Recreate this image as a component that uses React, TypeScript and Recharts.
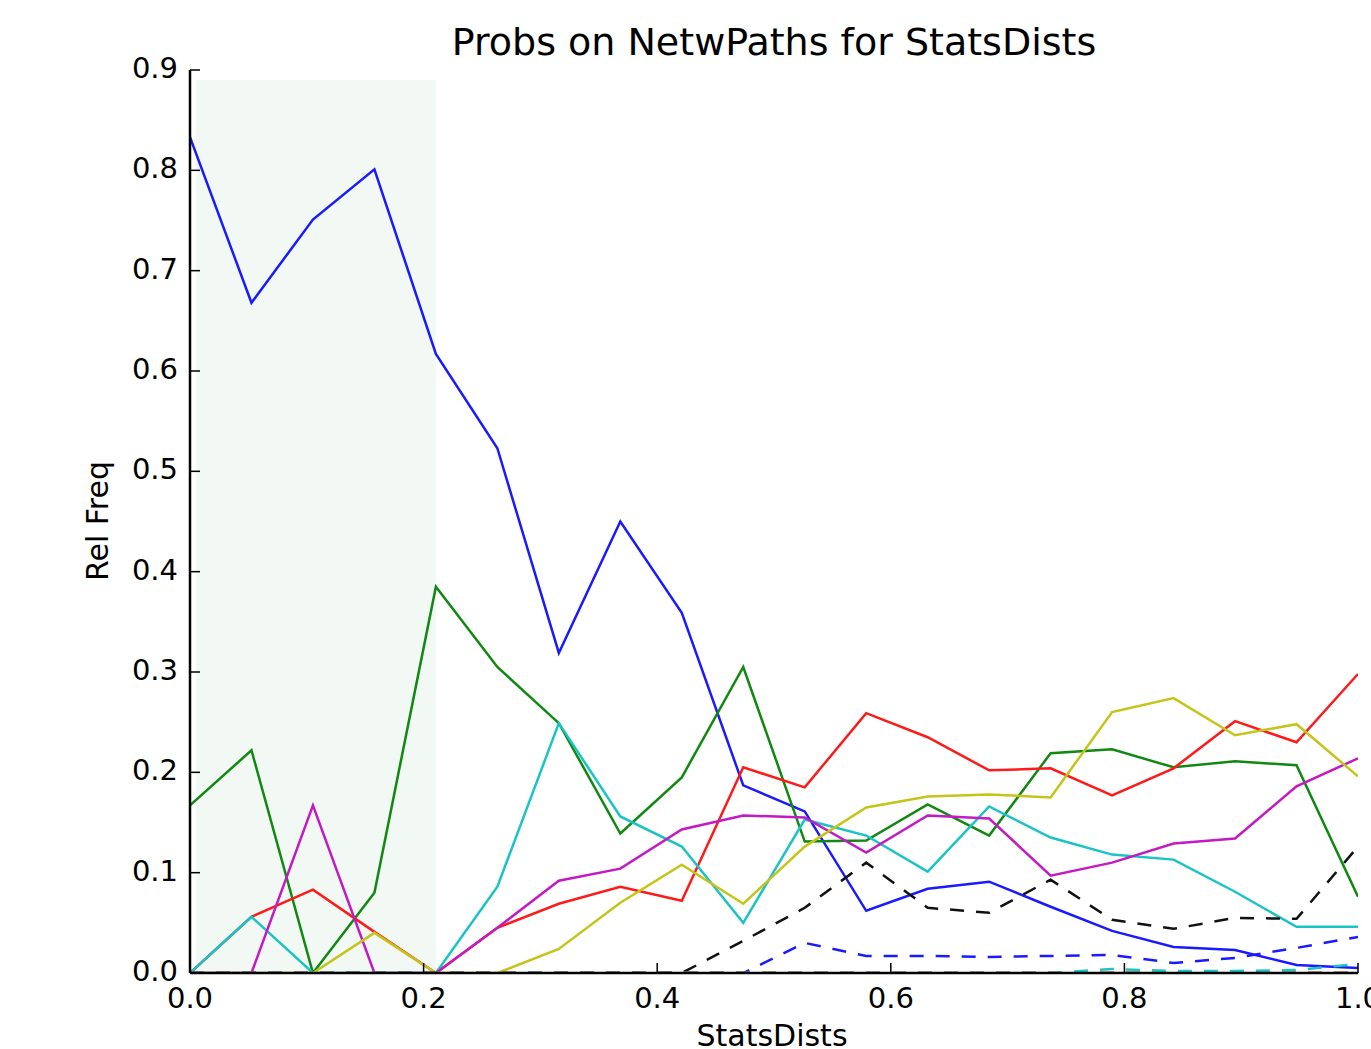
import React from 'react'
import { LineChart, Line, XAxis, YAxis, ReferenceArea } from 'recharts'

// 20 bins between 0 and 1
const steps = Array.from({ length: 20 }, (_, i) => i / 19)

const blueSolid = [0.833, 0.668, 0.751, 0.801, 0.617, 0.523, 0.319, 0.45, 0.359, 0.187, 0.161, 0.062, 0.084, 0.091, 0.066, 0.042, 0.026, 0.023, 0.008, 0.005]
const greenSolid = [0.167, 0.222, 0, 0.08, 0.385, 0.305, 0.249, 0.139, 0.195, 0.305, 0.131, 0.132, 0.168, 0.137, 0.219, 0.223, 0.205, 0.211, 0.207, 0.076]
const redSolid = [0, 0.056, 0.083, 0.041, 0, 0.045, 0.069, 0.086, 0.072, 0.205, 0.185, 0.259, 0.235, 0.202, 0.204, 0.177, 0.204, 0.251, 0.23, 0.298]
const cyanSolid = [0, 0.056, 0, 0, 0, 0.086, 0.249, 0.156, 0.126, 0.05, 0.153, 0.137, 0.101, 0.166, 0.135, 0.118, 0.113, 0.081, 0.046, 0.046]
const magentaSolid = [0, 0, 0.167, 0, 0, 0.045, 0.092, 0.104, 0.143, 0.157, 0.155, 0.12, 0.157, 0.154, 0.097, 0.11, 0.129, 0.134, 0.186, 0.214]
const yellowSolid = [0, 0, 0, 0.04, 0, 0, 0.024, 0.07, 0.108, 0.069, 0.126, 0.165, 0.176, 0.178, 0.175, 0.26, 0.274, 0.237, 0.248, 0.196]
const blackDashed = [0, 0, 0, 0, 0, 0, 0, 0, 0, 0.032, 0.065, 0.11, 0.065, 0.06, 0.093, 0.053, 0.044, 0.055, 0.054, 0.126]
const blueDashed = [0, 0, 0, 0, 0, 0, 0, 0, 0, 0, 0.03, 0.017, 0.017, 0.016, 0.017, 0.018, 0.01, 0.015, 0.025, 0.036]
const zeroDashed = [0, 0, 0, 0, 0, 0, 0, 0, 0, 0, 0, 0, 0, 0, 0, 0, 0, 0, 0, 0]
const cyanDashed = [0, 0, 0, 0, 0, 0, 0, 0, 0, 0, 0, 0, 0, 0, 0, 0.004, 0.002, 0.002, 0.003, 0.009]

const xTicks = [0, 0.2, 0.4, 0.6, 0.8, 1.0]
const yTicks = [0, 0.1, 0.2, 0.3, 0.4, 0.5, 0.6, 0.7, 0.8, 0.9]

const rows = steps.map((x, i) => ({
  x,
  b: blueSolid[i],
  g: greenSolid[i],
  r: redSolid[i],
  c: cyanSolid[i],
  m: magentaSolid[i],
  y: yellowSolid[i],
  kd: blackDashed[i],
  bd: blueDashed[i],
  gd: zeroDashed[i],
  rd: zeroDashed[i],
  md: zeroDashed[i],
  yd: zeroDashed[i],
  cd: cyanDashed[i],
}))

const FONT = '"DejaVu Sans", sans-serif'
const TICK_LEN = 10
const TICK_FONT = 29

function BottomTick({ x, y, payload }: any) {
  return (
    <g>
      <line x1={x} x2={x} y1={y} y2={y - TICK_LEN} stroke="#000" strokeWidth={1.5} />
      <text x={x} y={y + 35} textAnchor="middle" fontSize={TICK_FONT} fontFamily={FONT} fill="#000">
        {Number(payload.value).toFixed(1)}
      </text>
    </g>
  )
}

function TopTick({ x, y }: any) {
  return <line x1={x} x2={x} y1={y} y2={y + TICK_LEN} stroke="#000" strokeWidth={1.5} />
}

function LeftTick({ x, y, payload }: any) {
  return (
    <g>
      <line x1={x} x2={x + TICK_LEN} y1={y} y2={y} stroke="#000" strokeWidth={1.5} />
      <text x={x - 12} y={y + 8} textAnchor="end" fontSize={TICK_FONT} fontFamily={FONT} fill="#000">
        {Number(payload.value).toFixed(1)}
      </text>
    </g>
  )
}

function RightTick({ x, y }: any) {
  return <line x1={x} x2={x - TICK_LEN} y1={y} y2={y} stroke="#000" strokeWidth={1.5} />
}

const spine = { stroke: '#000', strokeWidth: 2.5 }
const DASH = '14 12'
const LW = 2.5

export default function App() {
  return (
    <div style={{ position: 'fixed', left: 0, top: 0, width: 1371, height: 1049, overflow: 'hidden', background: '#fff' }}>
      <div
        style={{
          position: 'absolute', left: 190, width: 1168, top: 22.8, textAlign: 'center',
          fontFamily: FONT, fontSize: 38, lineHeight: '38px', color: '#000', whiteSpace: 'nowrap',
        }}
      >
        Probs on NetwPaths for StatsDists
      </div>
      <div
        style={{
          position: 'absolute', left: 190, width: 1164, top: 1020.5, textAlign: 'center',
          fontFamily: FONT, fontSize: 30, lineHeight: '30px', color: '#000', whiteSpace: 'nowrap',
        }}
      >
        StatsDists
      </div>
      <div
        style={{
          position: 'absolute', left: 98, top: 521, transform: 'translate(-50%, -50%) rotate(-90deg)',
          fontFamily: FONT, fontSize: 30, lineHeight: '30px', color: '#000', whiteSpace: 'nowrap',
        }}
      >
        Rel Freq
      </div>
      <LineChart
        width={1371}
        height={1049}
        data={rows}
        margin={{ top: 70, right: 13, bottom: 36, left: 130 }}
        style={{ position: 'absolute', left: 0, top: 0 }}
      >
        <XAxis
          dataKey="x"
          type="number"
          domain={[0, 1]}
          ticks={xTicks}
          allowDataOverflow
          height={40}
          axisLine={spine}
          tickLine={false}
          tickSize={0}
          tickMargin={0}
          tick={<BottomTick />}
          interval={0}
        />
        <XAxis
          xAxisId="top"
          orientation="top"
          dataKey="x"
          type="number"
          domain={[0, 1]}
          ticks={xTicks}
          height={0}
          axisLine={spine}
          tickLine={false}
          tickSize={0}
          tickMargin={0}
          tick={<TopTick />}
          interval={0}
        />
        <YAxis
          type="number"
          domain={[0, 0.9]}
          ticks={yTicks}
          allowDataOverflow
          width={60}
          axisLine={spine}
          tickLine={false}
          tickSize={0}
          tickMargin={0}
          tick={<LeftTick />}
          interval={0}
        />
        <YAxis
          yAxisId="right"
          orientation="right"
          type="number"
          domain={[0, 0.9]}
          ticks={yTicks}
          width={0}
          axisLine={spine}
          tickLine={false}
          tickSize={0}
          tickMargin={0}
          tick={<RightTick />}
          interval={0}
        />
        <ReferenceArea x1={0.005} x2={4 / 19} y1={0} y2={0.89} fill="#f2f9f4" fillOpacity={1} stroke="none" />
        <Line type="linear" dataKey="b" stroke="#1a1aff" strokeWidth={LW} dot={false} isAnimationActive={false} />
        <Line type="linear" dataKey="g" stroke="#118811" strokeWidth={LW} dot={false} isAnimationActive={false} />
        <Line type="linear" dataKey="r" stroke="#ff1a1a" strokeWidth={LW} dot={false} isAnimationActive={false} />
        <Line type="linear" dataKey="c" stroke="#1ac4c4" strokeWidth={LW} dot={false} isAnimationActive={false} />
        <Line type="linear" dataKey="m" stroke="#c41ac4" strokeWidth={LW} dot={false} isAnimationActive={false} />
        <Line type="linear" dataKey="y" stroke="#c4c41a" strokeWidth={LW} dot={false} isAnimationActive={false} />
        <Line type="linear" dataKey="kd" stroke="#111111" strokeWidth={LW} strokeDasharray={DASH} dot={false} isAnimationActive={false} />
        <Line type="linear" dataKey="bd" stroke="#1a1aff" strokeWidth={LW} strokeDasharray={DASH} dot={false} isAnimationActive={false} />
        <Line type="linear" dataKey="gd" stroke="#118811" strokeWidth={LW} strokeDasharray={DASH} dot={false} isAnimationActive={false} />
        <Line type="linear" dataKey="rd" stroke="#ff1a1a" strokeWidth={LW} strokeDasharray={DASH} dot={false} isAnimationActive={false} />
        <Line type="linear" dataKey="md" stroke="#c41ac4" strokeWidth={LW} strokeDasharray={DASH} dot={false} isAnimationActive={false} />
        <Line type="linear" dataKey="yd" stroke="#c4c41a" strokeWidth={LW} strokeDasharray={DASH} dot={false} isAnimationActive={false} />
        <Line type="linear" dataKey="cd" stroke="#1ac4c4" strokeWidth={LW} strokeDasharray={DASH} dot={false} isAnimationActive={false} />
      </LineChart>
    </div>
  )
}
